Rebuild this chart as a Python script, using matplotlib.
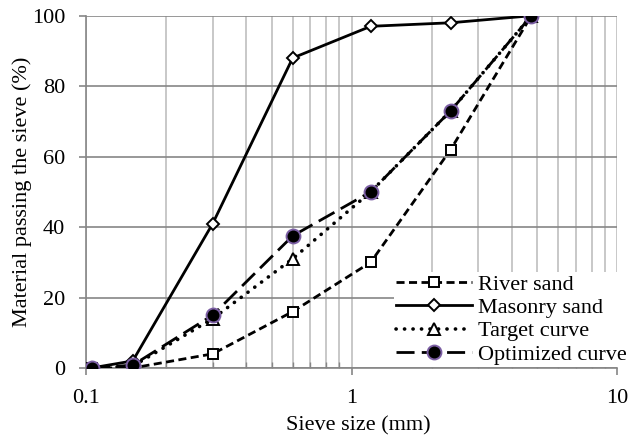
import numpy as np
import matplotlib
matplotlib.use("Agg")
import matplotlib.pyplot as plt
from matplotlib.ticker import LogLocator, NullFormatter, FixedLocator, FixedFormatter

plt.rcParams['font.family'] = ['Liberation Serif', 'DejaVu Serif']

# sieve openings (mm) and percent passing for each gradation
sieve = [0.105, 0.15, 0.3, 0.6, 1.18, 2.36, 4.75]
river_sand = [0, 0, 4, 16, 30, 62, 100]
masonry_sand = [0, 2, 41, 88, 97, 98, 100]
target_curve = [0, 0.5, 14, 31, 50, 73, 100]
optimized_curve = [0, 0.8, 15, 37.5, 50, 73, 100]

x_ticks = [0.1, 1, 10]
x_tick_labels = ["0.1", "1", "10"]
y_ticks = [0, 20, 40, 60, 80, 100]

fig = plt.figure(figsize=(6.34, 4.37), dpi=100)
ax = fig.add_axes([0.1356, 0.158, 0.838, 0.806])

axis_grey = "#868686"
minor_grey = "#bfbfbf"
fs = 16

ax.plot(sieve, river_sand, color="black", lw=2, dashes=(2.9, 1.6),
        marker="s", ms=7, mfc="white", mec="black", mew=1.4,
        label="River sand", zorder=3)
ax.plot(sieve, masonry_sand, color="black", lw=2, ls="-",
        marker="D", ms=6, mfc="white", mec="black", mew=1.4,
        label="Masonry sand", zorder=3)
ax.plot(sieve, target_curve, color="black", lw=2.6, dashes=(0.05, 2.3),
        dash_capstyle="round", marker="^", ms=8, mfc="white", mec="black",
        mew=1.4, label="Target curve", zorder=3)
ax.plot(sieve, optimized_curve, color="black", lw=2, dashes=(6.5, 2.6),
        marker="o", ms=10, mfc="black", mec="#7b5ea3", mew=1.4,
        label="Optimized curve", zorder=4)

ax.set_xscale("log")
ax.set_xlim(0.1, 10)
ax.set_ylim(0, 100)

ax.xaxis.set_major_locator(FixedLocator(x_ticks))
ax.xaxis.set_major_formatter(FixedFormatter(x_tick_labels))
ax.xaxis.set_minor_locator(LogLocator(base=10, subs=np.arange(2, 10)))
ax.xaxis.set_minor_formatter(NullFormatter())
ax.set_yticks(y_ticks)

ax.grid(True, which="minor", axis="x", color=minor_grey, lw=1.2)
ax.grid(True, which="major", axis="x", color=minor_grey, lw=1.2)
ax.grid(True, which="major", axis="y", color=axis_grey, lw=1.2)
ax.set_axisbelow(True)

for side in ["top", "right"]:
    ax.spines[side].set_visible(False)
for side in ["left", "bottom"]:
    ax.spines[side].set_color(axis_grey)
    ax.spines[side].set_linewidth(1.2)

ax.tick_params(axis="both", which="major", direction="out", length=5,
               width=1.2, color=axis_grey, labelsize=fs)
ax.tick_params(axis="x", which="minor", direction="in", length=4,
               width=1.0, color=axis_grey)
ax.tick_params(axis="x", which="major", pad=10)
ax.tick_params(axis="y", which="major", pad=10)

ax.set_xlabel("Sieve size (mm)", fontsize=fs, labelpad=6, x=0.512)
ax.set_ylabel("Material passing the sieve (%)", fontsize=fs, labelpad=0)

leg = ax.legend(loc="lower right", bbox_to_anchor=(1.025, 0.0), frameon=True,
                fontsize=fs, handlelength=3.4, handletextpad=0.3,
                labelspacing=0.12, borderpad=0.1, numpoints=1,
                borderaxespad=0.05)
leg.get_frame().set_facecolor("white")
leg.get_frame().set_edgecolor("none")
leg.get_frame().set_alpha(1.0)

fig.savefig("out.png", dpi=100)
